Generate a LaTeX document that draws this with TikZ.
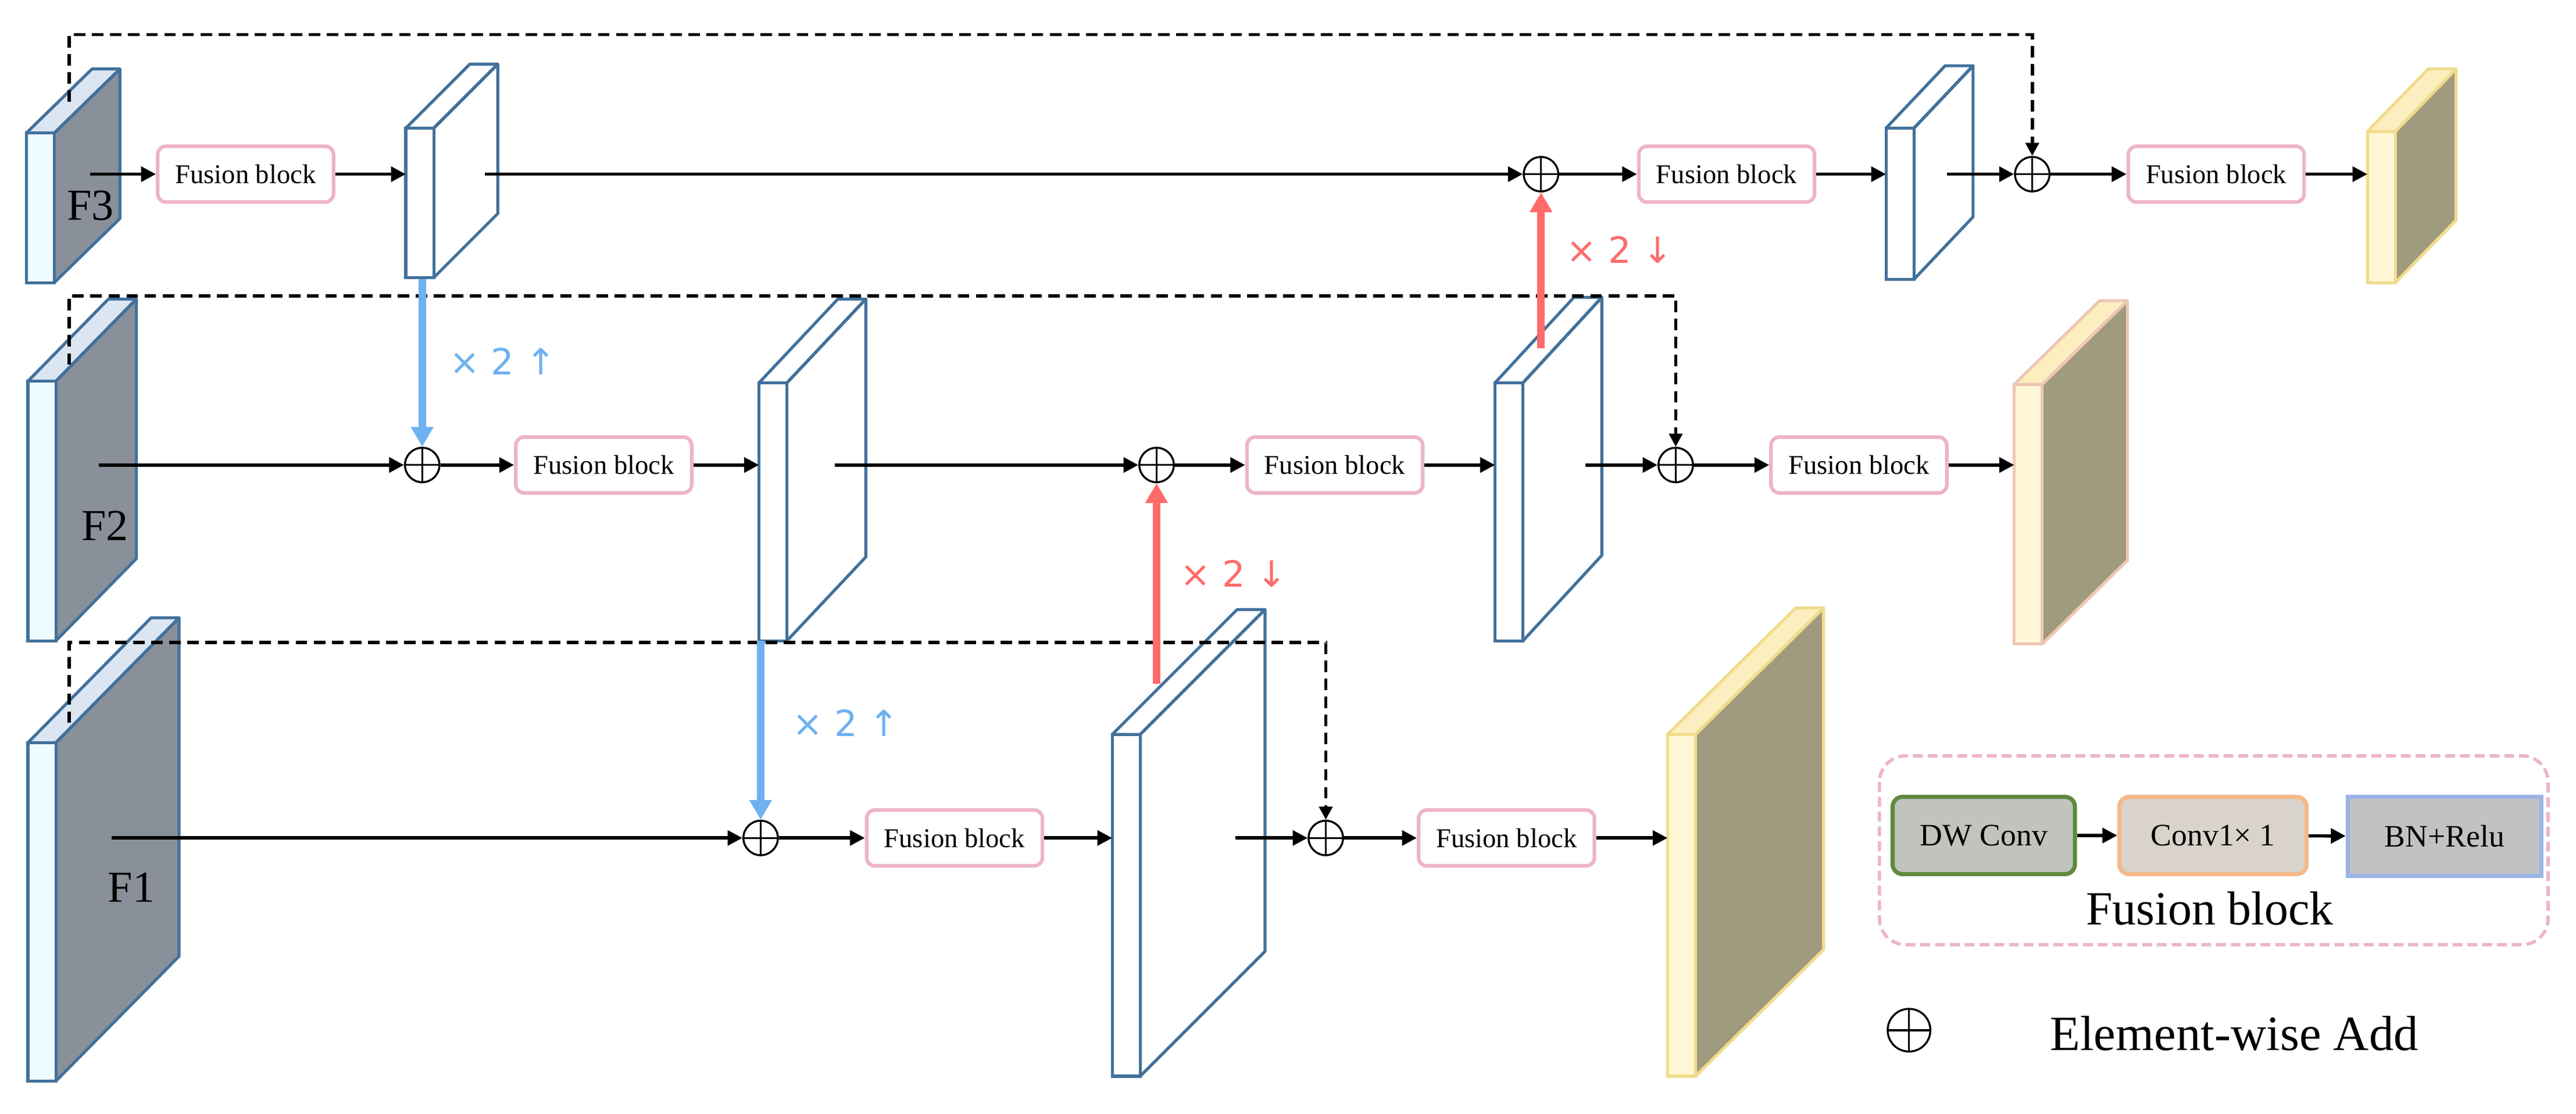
\documentclass[tikz,border=0pt]{standalone}
\usepackage{fontspec}
\setmainfont{Liberation Serif}
\newfontfamily\lab{DejaVu Sans}
\usetikzlibrary{arrows.meta}
\definecolor{bord}{HTML}{41719C}
\definecolor{fbpink}{HTML}{EDB5C6}
\definecolor{upblue}{HTML}{6EB1F0}
\definecolor{downred}{HTML}{FF6B6B}
\definecolor{infront}{HTML}{EEFBFF}
\definecolor{intop}{HTML}{DBE6F2}
\definecolor{inside}{HTML}{8A9099}
\definecolor{yfront}{HTML}{FFF6D5}
\definecolor{ytop}{HTML}{FDEEC0}
\definecolor{yside}{HTML}{A09A7E}
\definecolor{ybord}{HTML}{F0DC8C}
\definecolor{ybord2}{HTML}{ECC8B4}
\newcommand\slabgen[9]{%
  \fill[#8] (#1+17,#2) -- ++(#4,-#5) -- (#1+17+#4,#3-#5) -- (#1+17,#3) -- cycle;
  \draw[#9,line width=1.8pt,line join=round,fill=#7] (#1,#2) -- ++(#4,-#5) -- ++(17,0) -- (#1+17,#2) -- cycle;
  \draw[#9,line width=1.8pt,line join=round] (#1+17,#2) -- ++(#4,-#5) -- (#1+17+#4,#3-#5) -- (#1+17,#3);
  \draw[#9,line width=1.8pt,fill=#6] (#1,#2) rectangle (#1+17,#3);}
\begin{document}
\begin{tikzpicture}[x=1pt,y=-1pt,
  fb/.style={draw=fbpink,line width=2.2pt,rounded corners=5pt,fill=white,minimum width=107pt,minimum height=34pt,inner sep=0pt,font=\fontsize{16.5}{16.5}\selectfont},
  plus/.style={circle,draw,line width=1.2pt,minimum size=21pt,inner sep=0pt,path picture={\draw[line width=1.2pt] (path picture bounding box.north) -- (path picture bounding box.south) (path picture bounding box.west) -- (path picture bounding box.east);}},
  ar/.style={line width=2pt,-{Triangle[length=9pt,width=9pt]}},
  dsh/.style={line width=2pt,dash pattern=on 7pt off 4pt,-{Triangle[length=8pt,width=8pt]}},
  upar/.style={upblue,line width=4.5pt,-{Triangle[length=12pt,width=13pt]}},
  dnar/.style={downred,line width=4.5pt,-{Triangle[length=12pt,width=13pt]}},
  cl/.style={font=\lab\fontsize{22}{22}\selectfont}]
\useasboundingbox (0,0) rectangle (1568,678);
% slabs
\slabgen{16}{81}{172}{40}{39}{infront}{intop}{inside}{bord}
\slabgen{247}{78}{169}{39}{39}{white}{white}{white}{bord}
\slabgen{1148}{78}{170}{36}{38}{white}{white}{white}{bord}
\slabgen{1441}{80}{172}{37}{38}{yfront}{ytop}{yside}{ybord}
\slabgen{17}{232}{390}{49}{50}{infront}{intop}{inside}{bord}
\slabgen{462}{233}{390}{48}{51}{white}{white}{white}{bord}
\slabgen{910}{233}{390}{48}{52}{white}{white}{white}{bord}
\slabgen{1226}{234}{392}{52}{51}{yfront}{ytop}{yside}{ybord2}
\slabgen{17}{452}{658}{75}{76}{infront}{intop}{inside}{bord}
\slabgen{677}{447}{655}{76}{76}{white}{white}{white}{bord}
\slabgen{1015}{447}{655}{78}{77}{yfront}{ytop}{yside}{ybord}
\node[font=\fontsize{27}{27}\selectfont] (F3) at (55,125) {F3};
\node[font=\fontsize{27}{27}\selectfont] (F2) at (64,320) {F2};
\node[font=\fontsize{27}{27}\selectfont] (F1) at (80,540) {F1};
% fusion blocks
\node[fb] (fbA) at (149.5,106) {Fusion block};
\node[fb] (fbB) at (1051,106) {Fusion block};
\node[fb] (fbC) at (1349,106) {Fusion block};
\node[fb] (fbD) at (367.5,283) {Fusion block};
\node[fb] (fbE) at (812.5,283) {Fusion block};
\node[fb] (fbF) at (1131.5,283) {Fusion block};
\node[fb] (fbG) at (581,510) {Fusion block};
\node[fb] (fbH) at (917,510) {Fusion block};
% plus
\node[plus] (pA) at (938,106) {};
\node[plus] (pB) at (1237,106) {};
\node[plus] (pC) at (257,283) {};
\node[plus] (pD) at (704,283) {};
\node[plus] (pE) at (1020,283) {};
\node[plus] (pF) at (463,510) {};
\node[plus] (pG) at (807,510) {};
% coordinates
\coordinate (a0) at (55,106); \coordinate (a1) at (247,106); \coordinate (a2) at (295,106);
\coordinate (a3) at (1148,106); \coordinate (a4) at (1185,106); \coordinate (a5) at (1441,106);
\coordinate (b0) at (60,283); \coordinate (b1) at (462,283); \coordinate (b2) at (508,283);
\coordinate (b3) at (910,283); \coordinate (b4) at (965,283); \coordinate (b5) at (1226,283);
\coordinate (c0) at (68,510); \coordinate (c1) at (677,510); \coordinate (c2) at (752,510);
\coordinate (c3) at (1015,510);
\coordinate (u1) at (257,170); \coordinate (u2) at (463,390);
\coordinate (d1) at (938,212); \coordinate (d2) at (704,416);
\coordinate (k1) at (42,62); \coordinate (k2) at (42,222); \coordinate (k3) at (42,440);
% flows
\draw[ar] (a0) -- (fbA); \draw[ar] (fbA) -- (a1); \draw[ar] (a2) -- (pA);
\draw[ar] (pA) -- (fbB); \draw[ar] (fbB) -- (a3); \draw[ar] (a4) -- (pB);
\draw[ar] (pB) -- (fbC); \draw[ar] (fbC) -- (a5);
\draw[ar] (b0) -- (pC); \draw[ar] (pC) -- (fbD); \draw[ar] (fbD) -- (b1);
\draw[ar] (b2) -- (pD); \draw[ar] (pD) -- (fbE); \draw[ar] (fbE) -- (b3);
\draw[ar] (b4) -- (pE); \draw[ar] (pE) -- (fbF); \draw[ar] (fbF) -- (b5);
\draw[ar] (c0) -- (pF); \draw[ar] (pF) -- (fbG); \draw[ar] (fbG) -- (c1);
\draw[ar] (c2) -- (pG); \draw[ar] (pG) -- (fbH); \draw[ar] (fbH) -- (c3);
\draw[dsh] (k1) -- (42,21) -| (pB);
\draw[dsh] (k2) -- (42,180) -| (pE);
\draw[dsh] (k3) -- (42,391) -| (pG);
\draw[upar] (u1) -- (pC); \draw[upar] (u2) -- (pF);
\draw[dnar] (d1) -- (pA); \draw[dnar] (d2) -- (pD);
\node[cl,text=upblue] (l1) at (306,220) {× 2 ↑};
\node[cl,text=upblue] (l2) at (515,440) {× 2 ↑};
\node[cl,text=downred] (l3) at (986,152) {× 2 ↓};
\node[cl,text=downred] (l4) at (751,349) {× 2 ↓};
% legend
\draw[fbpink,line width=2pt,dash pattern=on 6pt off 3pt,rounded corners=16pt] (1144,460) rectangle (1551,575);
\node[draw={rgb,255:red,94;green,138;blue,62},fill={rgb,255:red,192;green,196;blue,188},line width=2.5pt,rounded corners=6pt,minimum width=111pt,minimum height=47pt,inner sep=0pt,font=\fontsize{19}{19}\selectfont] (dw) at (1207.5,508.5) {DW Conv};
\node[draw={rgb,255:red,245;green,184;blue,138},fill={rgb,255:red,217;green,211;blue,203},line width=2.5pt,rounded corners=6pt,minimum width=114pt,minimum height=47pt,inner sep=0pt,font=\fontsize{19}{19}\selectfont] (cv) at (1347,508.5) {Conv1× 1};
\node[draw={rgb,255:red,154;green,180;blue,228},fill={rgb,255:red,192;green,194;blue,196},line width=2.5pt,minimum width=118pt,minimum height=48pt,inner sep=0pt,font=\fontsize{19}{19}\selectfont] (bn) at (1488,509) {BN+Relu};
\draw[ar] (dw) -- (cv); \draw[ar] (cv) -- (bn);
\node[font=\fontsize{29}{29}\selectfont] (fbl) at (1345,553) {Fusion block};
\node[plus,minimum size=26pt] (lp) at (1162,627) {};
\node[font=\fontsize{30}{30}\selectfont] (lt) at (1360,629) {Element-wise Add};
\end{tikzpicture}
\end{document}
